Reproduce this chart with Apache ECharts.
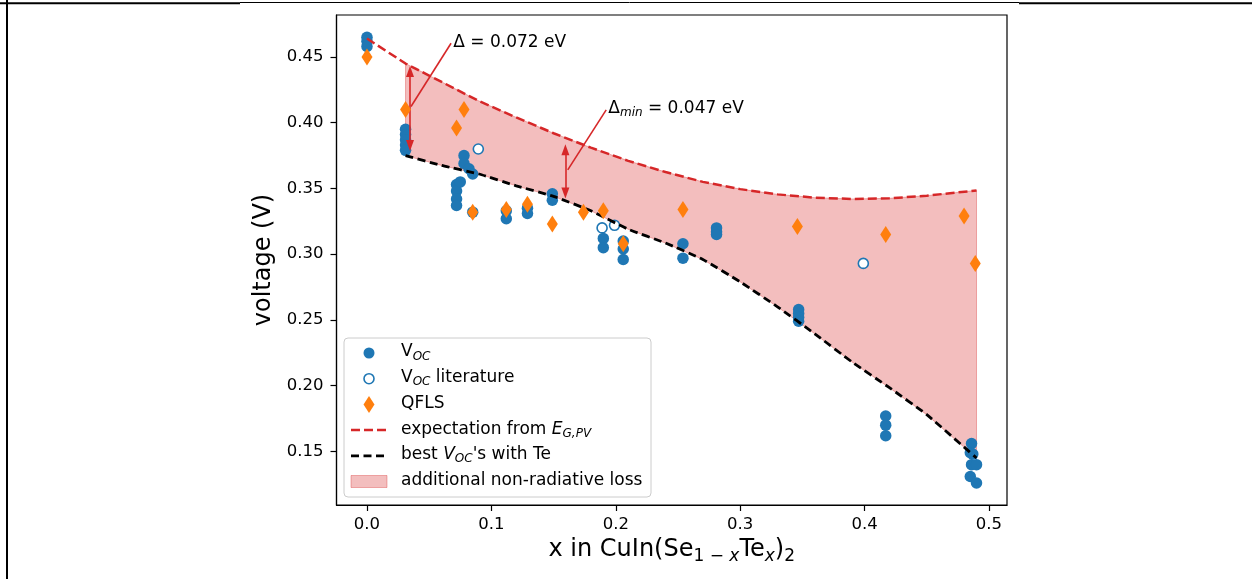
<!DOCTYPE html>
<html>
<head>
<meta charset="utf-8">
<script src="https://cdn.jsdelivr.net/npm/echarts@6/dist/echarts.min.js"></script>
<style>
  html, body { margin: 0; padding: 0; background: #fff; }
  #chart { width: 1252px; height: 579px; }
</style>
</head>
<body>
<div id="chart"></div>
<script>
// measured V_OC (filled circles)
const vocPoints = [
  [0, 0.465], [0, 0.462], [0, 0.458],
  [0.031, 0.395], [0.031, 0.391], [0.031, 0.387], [0.031, 0.383], [0.031, 0.379],
  [0.072, 0.353], [0.072, 0.348], [0.072, 0.342], [0.072, 0.337],
  [0.078, 0.375], [0.078, 0.369], [0.082, 0.365], [0.085, 0.361], [0.075, 0.355],
  [0.085, 0.332],
  [0.112, 0.333], [0.112, 0.327],
  [0.129, 0.335], [0.129, 0.331],
  [0.149, 0.346], [0.149, 0.341],
  [0.19, 0.312], [0.19, 0.305],
  [0.206, 0.310], [0.206, 0.304], [0.206, 0.296],
  [0.254, 0.308], [0.254, 0.297],
  [0.281, 0.320], [0.281, 0.317], [0.281, 0.315],
  [0.347, 0.258], [0.347, 0.255], [0.347, 0.252], [0.347, 0.249],
  [0.417, 0.177], [0.417, 0.170], [0.417, 0.162],
  [0.486, 0.156], [0.485, 0.149], [0.487, 0.148], [0.486, 0.140], [0.485, 0.131],
  [0.490, 0.140], [0.490, 0.126]
];
// V_OC from literature (open circles)
const vocLitPoints = [[0.0895, 0.380], [0.189, 0.320], [0.199, 0.322], [0.399, 0.293]];
// quasi Fermi level splitting (diamonds)
const qflsPoints = [
  [0, 0.450], [0.031, 0.410], [0.072, 0.396], [0.078, 0.410], [0.085, 0.332],
  [0.112, 0.334], [0.129, 0.338], [0.149, 0.323], [0.174, 0.332], [0.190, 0.333],
  [0.206, 0.308], [0.254, 0.334], [0.346, 0.321], [0.417, 0.315], [0.480, 0.329],
  [0.489, 0.293]
];
// dashed curves
const curveX = [0, 0.031, 0.06, 0.09, 0.12, 0.15, 0.18, 0.21, 0.24, 0.27, 0.30, 0.33, 0.36, 0.39, 0.42, 0.45, 0.49];
const expectationY = [0.464, 0.445, 0.431, 0.4165, 0.404, 0.392, 0.381, 0.371, 0.3625, 0.355, 0.3495, 0.3455, 0.343, 0.342, 0.3425, 0.3445, 0.3485];
const bestVocY = [null, 0.375, 0.3675, 0.361, 0.352, 0.344, 0.333, 0.319, 0.3085, 0.296, 0.279, 0.260, 0.2395, 0.218, 0.1985, 0.178, 0.145];

const xTicks = [0, 0.1, 0.2, 0.3, 0.4, 0.5];
const yTicks = [0.15, 0.20, 0.25, 0.30, 0.35, 0.40, 0.45];

const legendLabels = [
  '{n|V}{s|OC}',
  '{n|V}{s|OC}{n| literature}',
  '{n|QFLS}',
  '{n|expectation from }{i|E}{s|G,PV}',
  '{n|best }{i|V}{s|OC}{n|\'s with Te}',
  '{n|additional non-radiative loss}'
];

// double arrows and the lines joining them to their labels
const deltaArrows = [
  [[0.0346, 0.4390], [0.0346, 0.3826]],
  [[0.1595, 0.3795], [0.1595, 0.3465]]
];
const deltaLeaders = [
  [[0.0676, 0.4604], [0.0354, 0.4123]],
  [[0.1923, 0.4098], [0.1614, 0.3641]]
];
const deltaLabels = [
  { x: 0.0694, y: 0.4600, text: '{n|Δ = 0.072 eV}' },
  { x: 0.1940, y: 0.4100, text: '{n|Δ}{s|min}{n| = 0.047 eV}' }
];

const FONT = 'DejaVu Sans';
const BLUE = '#1f77b4', ORANGE = '#ff7f0e', RED = '#d62728';
const FILL = 'rgba(214,39,40,0.3)';

const smallRich = {
  n: { fontFamily: FONT, fontSize: 17, color: '#000', verticalAlign: 'bottom', padding: [0, 0, 2, 0] },
  i: { fontFamily: FONT, fontSize: 17, color: '#000', fontStyle: 'italic', verticalAlign: 'bottom', padding: [0, 0, 2, 0] },
  s: { fontFamily: FONT, fontSize: 12, color: '#000', fontStyle: 'italic', verticalAlign: 'bottom' }
};

const chart = echarts.init(document.getElementById('chart'));

const fillIdx = curveX.map((x, i) => i).filter(i => bestVocY[i] != null);

// legend, drawn by hand to match the boxed legend of the picture
const legendGraphic = [];
const lgLeft = 344, lgTop = 338, rowTop = 353, rowGap = 25.7, iconX = 369;
legendGraphic.push({
  type: 'rect', shape: { x: lgLeft, y: lgTop, width: 307, height: 159, r: 4 },
  style: { fill: 'rgba(255,255,255,0.8)', stroke: '#cccccc', lineWidth: 1 }, z: 100
});
legendLabels.forEach((label, k) => {
  const cy = rowTop + k * rowGap;
  let icon;
  if (k === 0) icon = { type: 'circle', shape: { cx: iconX, cy, r: 5.5 }, style: { fill: BLUE } };
  else if (k === 1) icon = { type: 'circle', shape: { cx: iconX, cy, r: 5 }, style: { fill: '#fff', stroke: BLUE, lineWidth: 1.6 } };
  else if (k === 2) icon = { type: 'polygon', shape: { points: [[iconX, cy - 8.5], [iconX + 5.5, cy], [iconX, cy + 8.5], [iconX - 5.5, cy]] }, style: { fill: ORANGE } };
  else if (k === 3) icon = { type: 'line', shape: { x1: 351, y1: cy, x2: 387, y2: cy }, style: { stroke: RED, lineWidth: 2.5, lineDash: [9, 4] } };
  else if (k === 4) icon = { type: 'line', shape: { x1: 351, y1: cy, x2: 387, y2: cy }, style: { stroke: '#000', lineWidth: 2.8, lineDash: [8, 4.5] } };
  else icon = { type: 'rect', shape: { x: 351, y: cy - 6, width: 36, height: 12 }, style: { fill: FILL, stroke: 'rgba(214,39,40,0.35)', lineWidth: 1 } };
  icon.z = 101;
  legendGraphic.push(icon);
  legendGraphic.push({
    type: 'text', x: 401, y: cy, z: 101,
    style: { text: label, rich: smallRich, align: 'left', verticalAlign: 'middle', textAlign: 'left', textVerticalAlign: 'middle' }
  });
});

// frame lines around the figure
const frameGraphic = [
  { type: 'line', shape: { x1: 7, y1: 0, x2: 7, y2: 579 }, style: { stroke: '#000', lineWidth: 2 } },
  { type: 'line', shape: { x1: 0, y1: 3.2, x2: 240, y2: 3.2 }, style: { stroke: '#000', lineWidth: 2 } },
  { type: 'line', shape: { x1: 240, y1: 2.5, x2: 1019, y2: 2.5 }, style: { stroke: '#000', lineWidth: 1 } },
  { type: 'line', shape: { x1: 1019, y1: 3.2, x2: 1252, y2: 3.2 }, style: { stroke: '#000', lineWidth: 2 } }
];

const tickLabel = { fontFamily: FONT, fontSize: 16.5, color: '#000' };

chart.setOption({
  animation: false,
  backgroundColor: '#fff',
  grid: { left: 336.5, right: 245, top: 15, bottom: 74, show: true, borderColor: '#000', borderWidth: 1.2, containLabel: false },
  xAxis: {
    type: 'value', min: -0.0245, max: 0.5145,
    axisLine: { show: true, onZero: false, lineStyle: { color: '#000', width: 1.2 } },
    axisTick: { show: true, length: 6, customValues: xTicks, lineStyle: { color: '#000', width: 1.2 } },
    axisLabel: { ...tickLabel, margin: 11, customValues: xTicks, formatter: v => v.toFixed(1) },
    splitLine: { show: false },
    name: '{n|x in CuIn(Se}{s|1 − }{si|x}{n|Te}{si|x}{n|)}{s|2}',
    nameLocation: 'middle', nameGap: 31,
    nameTextStyle: {
      fontFamily: FONT, fontSize: 24, color: '#000',
      rich: {
        n: { fontFamily: FONT, fontSize: 24, color: '#000', verticalAlign: 'bottom', padding: [0, 0, 3.5, 0] },
        s: { fontFamily: FONT, fontSize: 17, color: '#000', verticalAlign: 'bottom' },
        si: { fontFamily: FONT, fontSize: 17, color: '#000', fontStyle: 'italic', verticalAlign: 'bottom' }
      }
    }
  },
  yAxis: {
    type: 'value', min: 0.1093, max: 0.4819,
    axisLine: { show: true, onZero: false, lineStyle: { color: '#000', width: 1.2 } },
    axisTick: { show: true, length: 6, customValues: yTicks, lineStyle: { color: '#000', width: 1.2 } },
    axisLabel: { ...tickLabel, margin: 13, customValues: yTicks, formatter: v => v.toFixed(2) },
    splitLine: { show: false },
    name: 'voltage (V)', nameLocation: 'middle', nameRotate: 90, nameGap: 55,
    nameTextStyle: { fontFamily: FONT, fontSize: 24, color: '#000' }
  },
  graphic: frameGraphic.concat(legendGraphic),
  series: [
    {
      name: 'additional non-radiative loss', type: 'custom', z: 1, silent: true,
      data: [[curveX[1], bestVocY[1]]],
      renderItem: (params, api) => {
        const top = fillIdx.map(i => api.coord([curveX[i], expectationY[i]]));
        const bottom = fillIdx.map(i => api.coord([curveX[i], bestVocY[i]])).reverse();
        return {
          type: 'polygon', shape: { points: top.concat(bottom) },
          style: { fill: FILL, stroke: 'rgba(214,39,40,0.35)', lineWidth: 1 }
        };
      }
    },
    {
      name: 'V_OC', type: 'scatter', z: 3, symbol: 'circle', symbolSize: 11.5,
      itemStyle: { color: BLUE, opacity: 1 }, data: vocPoints
    },
    {
      name: 'V_OC literature', type: 'scatter', z: 4, symbol: 'circle', symbolSize: 10,
      itemStyle: { color: '#fff', borderColor: BLUE, borderWidth: 1.6, opacity: 1 }, data: vocLitPoints
    },
    {
      name: "best V_OC's with Te", type: 'line', z: 5, showSymbol: false, symbol: 'none', smooth: 0.15,
      lineStyle: { color: '#000', width: 2.8, type: [8, 4.5] },
      data: curveX.map((x, i) => [x, bestVocY[i]]).filter(p => p[1] != null)
    },
    {
      name: 'expectation from E_G,PV', type: 'line', z: 5, showSymbol: false, symbol: 'none',
      lineStyle: { color: RED, width: 2.5, type: [9, 4] },
      data: curveX.map((x, i) => [x, expectationY[i]]),
      markLine: {
        silent: true, animation: false,
        label: { show: false },
        lineStyle: { color: RED, width: 1.6, type: 'solid' },
        data: deltaArrows.map(a => [
          { coord: a[0], symbol: 'triangle', symbolSize: [8, 11] },
          { coord: a[1], symbol: 'triangle', symbolSize: [8, 11] }
        ]).concat(deltaLeaders.map(a => [
          { coord: a[0], symbol: 'none' },
          { coord: a[1], symbol: 'none' }
        ]))
      }
    },
    {
      name: 'QFLS', type: 'scatter', z: 6, symbol: 'diamond', symbolSize: [11, 17],
      itemStyle: { color: ORANGE, opacity: 1 }, data: qflsPoints
    },
    {
      name: 'annotations', type: 'custom', z: 7, silent: true,
      data: deltaLabels.map(d => [d.x, d.y]),
      renderItem: (params, api) => {
        const p = api.coord([api.value(0), api.value(1)]);
        return {
          type: 'text', x: p[0], y: p[1],
          style: {
            text: deltaLabels[params.dataIndex].text, rich: smallRich,
            align: 'left', verticalAlign: 'middle', textAlign: 'left', textVerticalAlign: 'middle'
          }
        };
      }
    }
  ]
});
</script>
</body>
</html>
